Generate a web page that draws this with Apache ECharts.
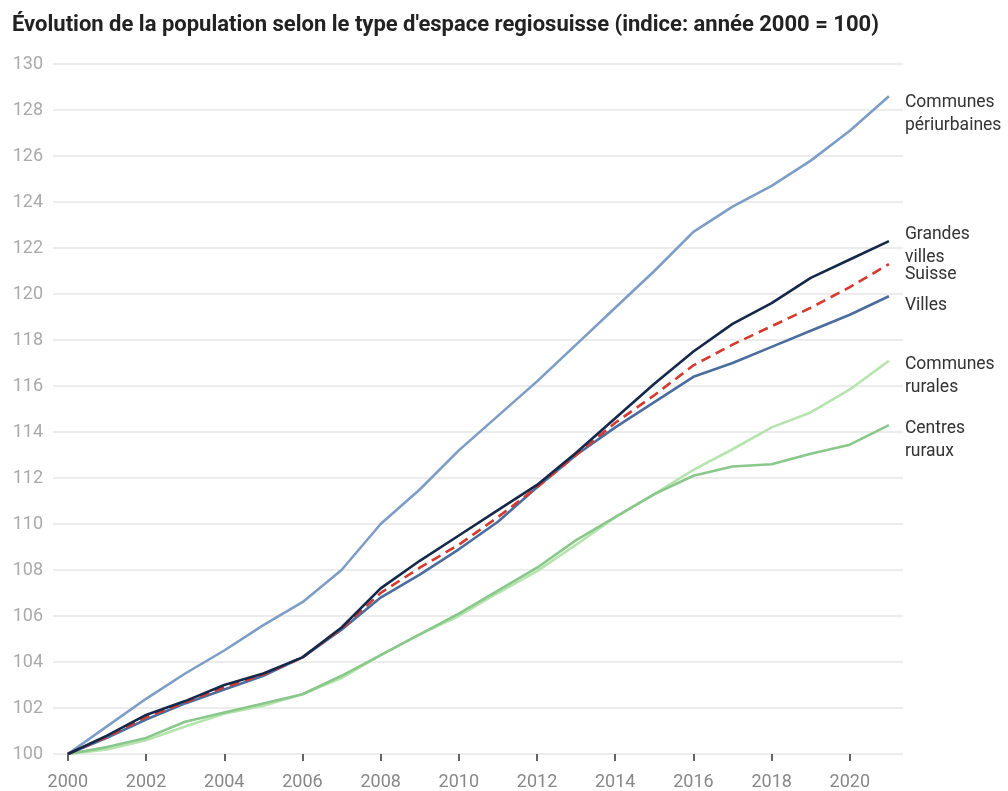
<!DOCTYPE html>
<html>
<head>
<meta charset="utf-8">
<script src="https://cdn.jsdelivr.net/npm/echarts@6/dist/echarts.min.js"></script>
<style>
html,body{margin:0;padding:0;background:#fff;}
#chart{width:1008px;height:791px;}
</style>
</head>
<body>
<div id="chart"></div>
<script>
const years = [2000,2001,2002,2003,2004,2005,2006,2007,2008,2009,2010,2011,2012,2013,2014,2015,2016,2017,2018,2019,2020,2021];
const xTickYears = [2000,2002,2004,2006,2008,2010,2012,2014,2016,2018,2020];

const communesPeriurbaines = [100,101.2,102.4,103.5,104.5,105.6,106.6,108.0,110.0,111.5,113.2,114.7,116.2,117.8,119.4,121.0,122.7,123.8,124.7,125.8,127.1,128.6];
const grandesVilles = [100,100.8,101.7,102.3,103.0,103.5,104.2,105.5,107.2,108.4,109.5,110.6,111.7,113.1,114.6,116.1,117.5,118.7,119.6,120.7,121.5,122.3];
const suisse = [100,100.75,101.6,102.25,102.9,103.45,104.2,105.45,107.0,108.1,109.1,110.3,111.6,113.0,114.4,115.6,116.9,117.8,118.6,119.4,120.3,121.3];
const villes = [100,100.7,101.5,102.2,102.8,103.4,104.2,105.4,106.8,107.8,108.9,110.1,111.6,113.0,114.2,115.3,116.4,117.0,117.7,118.4,119.1,119.9];
const communesRurales = [100,100.2,100.6,101.2,101.75,102.1,102.6,103.3,104.3,105.2,106.0,107.0,107.95,109.1,110.3,111.3,112.35,113.25,114.2,114.85,115.85,117.1];
const centresRuraux = [100,100.3,100.7,101.4,101.8,102.2,102.6,103.4,104.3,105.2,106.1,107.1,108.1,109.3,110.3,111.3,112.1,112.5,112.6,113.05,113.45,114.3];

const title = "Évolution de la population selon le type d'espace regiosuisse (indice: année 2000 = 100)";

function pairs(vals){ return years.map((y,i)=>[y, vals[i]]); }

function mkSeries(name, label, vals, color, dy, dashed, z){
  return {
    name: name,
    type: 'line',
    data: pairs(vals),
    symbol: 'none',
    smooth: false,
    z: z,
    lineStyle: { color: color, width: 2.6, type: dashed ? [10,6] : 'solid' },
    itemStyle: { color: color },
    emphasis: { disabled: true },
    endLabel: {
      show: true,
      formatter: label,
      distance: 0,
      offset: [16, dy],
      align: 'left',
      verticalAlign: 'middle',
      fontFamily: 'Roboto',
      fontSize: 17.5,
      lineHeight: 23,
      color: '#333'
    }
  };
}

const chart = echarts.init(document.getElementById('chart'), null, {renderer:'canvas'});
chart.setOption({
  animation: false,
  backgroundColor: '#fff',
  title: {
    text: title,
    left: 12,
    top: 14,
    padding: 0,
    textStyle: { fontFamily: 'Roboto', fontWeight: 'bold', fontSize: 22, color: '#222' }
  },
  grid: { left: 53, right: 105, top: 64, bottom: 36, containLabel: false },
  xAxis: {
    type: 'value',
    min: 1999.62,
    max: 2021.36,
    splitLine: { show: false },
    axisLine: { show: false },
    axisTick: { show: true, customValues: xTickYears, length: 7, lineStyle: { color: '#333', width: 1.5 } },
    axisLabel: {
      customValues: xTickYears,
      fontFamily: 'Roboto', fontSize: 18, color: '#888', margin: 19,
      formatter: v => String(v)
    }
  },
  yAxis: {
    type: 'value',
    min: 100,
    max: 130,
    interval: 2,
    axisLine: { show: false },
    axisTick: { show: false },
    splitLine: { lineStyle: { color: '#e6e6e6', width: 1.5 } },
    axisLabel: { fontFamily: 'Roboto', fontSize: 18, color: '#aaa', margin: 10 }
  },
  series: [
    mkSeries('Communes périurbaines', 'Communes\npériurbaines', communesPeriurbaines, '#7d9dc6', 18, false, 2),
    mkSeries('Communes rurales', 'Communes\nrurales', communesRurales, '#b6e4ae', 15, false, 2),
    mkSeries('Centres ruraux', 'Centres\nruraux', centresRuraux, '#89c78a', 15, false, 3),
    mkSeries('Villes', 'Villes', villes, '#4a6d9e', 9, false, 4),
    mkSeries('Suisse', 'Suisse', suisse, '#d63a2f', 11, true, 5),
    mkSeries('Grandes villes', 'Grandes\nvilles', grandesVilles, '#14284a', 5, false, 6)
  ]
});
</script>
</body>
</html>
